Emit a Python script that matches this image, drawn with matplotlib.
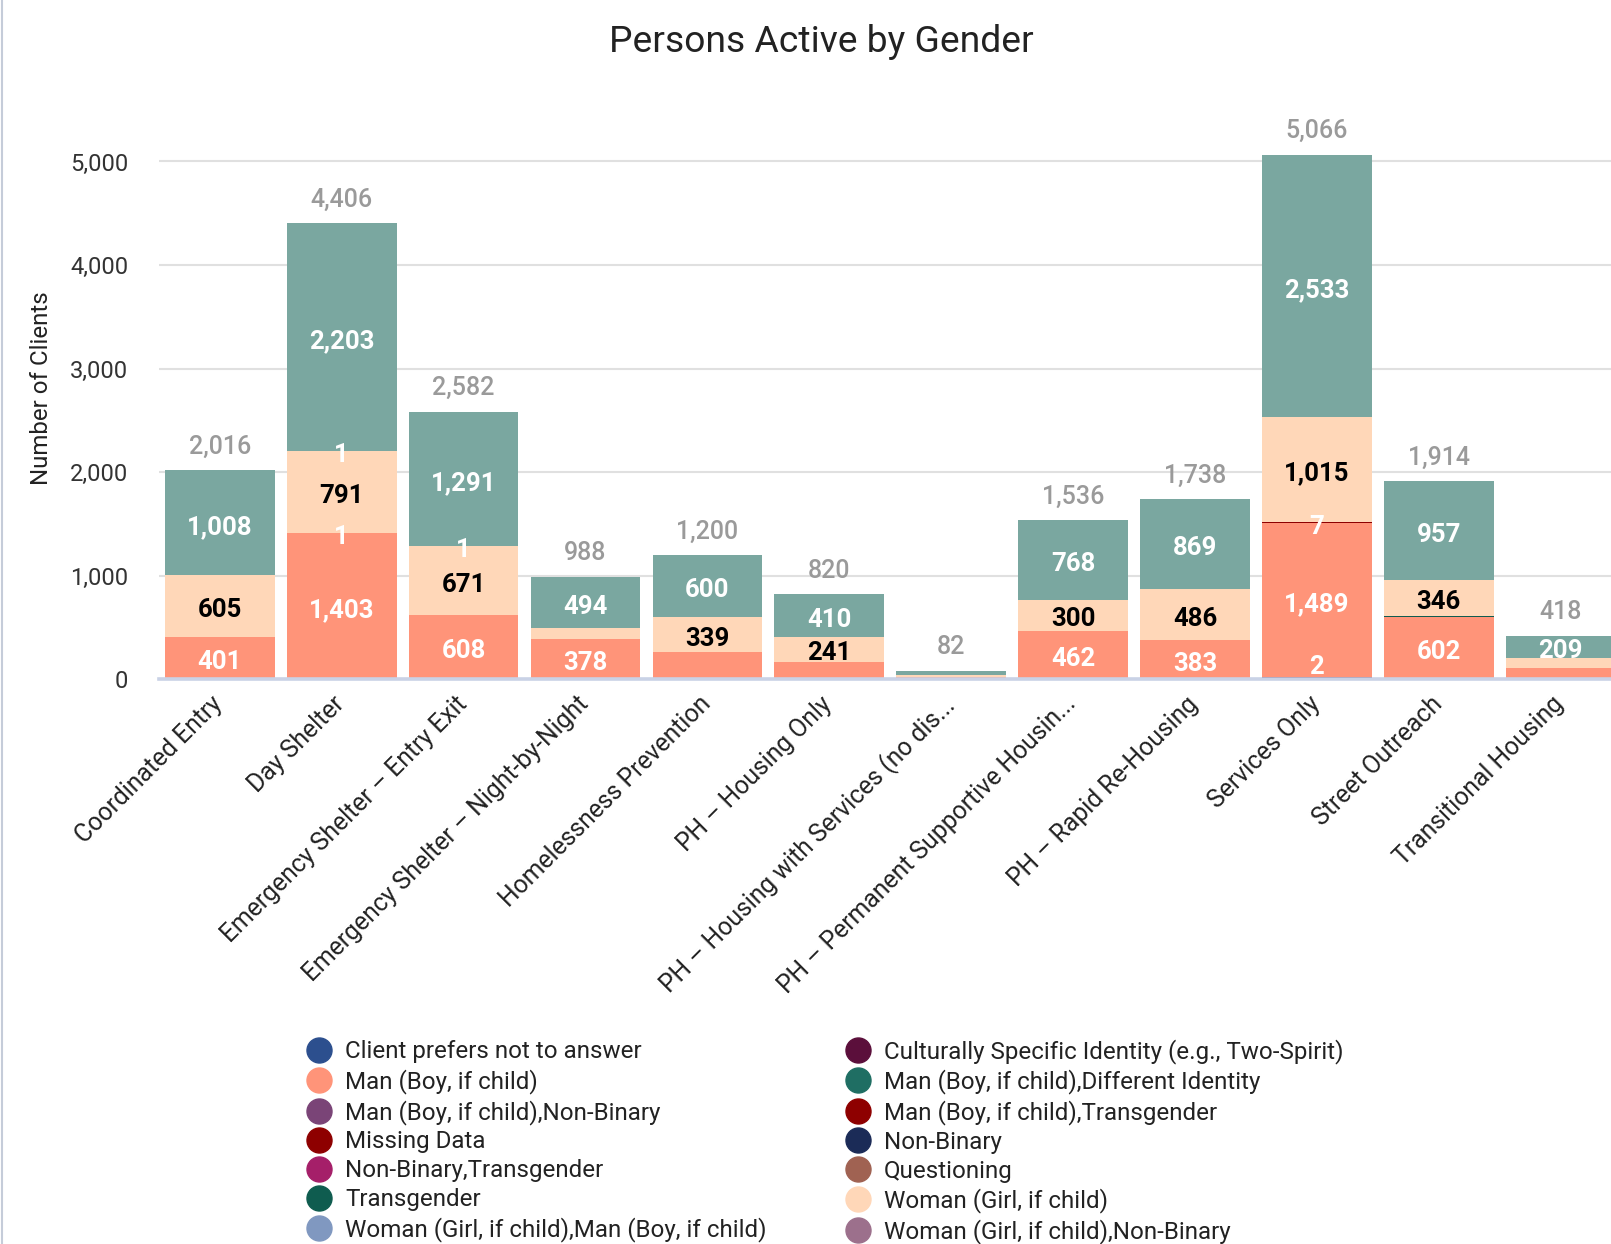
import matplotlib.pyplot as plt
from matplotlib.lines import Line2D
import matplotlib.transforms as mtransforms
import numpy as np

plt.rcParams['font.family'] = ['Roboto', 'DejaVu Sans']

# categories on the x axis
categories = [
    "Coordinated Entry",
    "Day Shelter",
    "Emergency Shelter – Entry Exit",
    "Emergency Shelter – Night-by-Night",
    "Homelessness Prevention",
    "PH – Housing Only",
    "PH – Housing with Services (no dis...",
    "PH – Permanent Supportive Housin...",
    "PH – Rapid Re-Housing",
    "Services Only",
    "Street Outreach",
    "Transitional Housing",
]

# one list per gender series (stack order = legend order)
client_prefers = [0, 0, 0, 0, 0, 0, 0, 0, 0, 2, 0, 0]
culturally_specific = [2, 7, 11, 9, 7, 5, 2, 6, 0, 17, 1, 4]
man = [401, 1403, 608, 378, 254, 164, 18, 462, 383, 1489, 602, 100]
man_diff_identity = [0, 0, 0, 0, 0, 0, 0, 0, 0, 0, 0, 0]
man_non_binary = [0, 0, 0, 0, 0, 0, 0, 0, 0, 0, 0, 0]
man_transgender = [0, 1, 0, 0, 0, 0, 0, 0, 0, 0, 0, 0]
missing_data = [0, 0, 0, 0, 0, 0, 0, 0, 0, 7, 0, 0]
non_binary = [0, 0, 0, 0, 0, 0, 0, 0, 0, 3, 0, 0]
non_binary_trans = [0, 0, 0, 0, 0, 0, 0, 0, 0, 0, 0, 0]
questioning = [0, 0, 0, 0, 0, 0, 0, 0, 0, 0, 0, 0]
transgender = [0, 0, 0, 0, 0, 0, 0, 0, 0, 0, 8, 0]
woman = [605, 791, 671, 107, 339, 241, 21, 300, 486, 1015, 346, 105]
woman_man = [0, 1, 1, 0, 0, 0, 0, 0, 0, 0, 0, 0]
woman_non_binary = [0, 0, 0, 0, 0, 0, 0, 0, 0, 0, 0, 0]
# top teal series (its legend entry is cut off below the picture)
teal_series = [1008, 2203, 1291, 494, 600, 410, 41, 768, 869, 2533, 957, 209]

series_names = [
    "Client prefers not to answer",
    "Culturally Specific Identity (e.g., Two-Spirit)",
    "Man (Boy, if child)",
    "Man (Boy, if child),Different Identity",
    "Man (Boy, if child),Non-Binary",
    "Man (Boy, if child),Transgender",
    "Missing Data",
    "Non-Binary",
    "Non-Binary,Transgender",
    "Questioning",
    "Transgender",
    "Woman (Girl, if child)",
    "Woman (Girl, if child),Man (Boy, if child)",
    "Woman (Girl, if child),Non-Binary",
    "_teal",
]
series_values = [client_prefers, culturally_specific, man, man_diff_identity,
                 man_non_binary, man_transgender, missing_data, non_binary,
                 non_binary_trans, questioning, transgender, woman, woman_man,
                 woman_non_binary, teal_series]
colors = ["#2c4f8e", "#5b0f3b", "#ff9479", "#1f6e63", "#7a4477", "#8e0000",
          "#8e0000", "#1b2b57", "#a51f69", "#a06252", "#0f5c4f", "#ffd7b8",
          "#8098c0", "#9c708c", "#7aa7a0"]

# which labels google hid / showed (category index, series index)
hide_labels = [(4, 2)]
small_labels = [(1, 5), (1, 12), (2, 12), (9, 0), (9, 6)]

fig = plt.figure(figsize=(16.11, 12.44), dpi=100)
ax = fig.add_axes([0.0986, 0.454, 0.908, 0.4578])

x = np.arange(len(categories))
bottom = np.zeros(len(categories))
for s, (name, vals, col) in enumerate(zip(series_names, series_values, colors)):
    vals = np.array(vals, dtype=float)
    ax.bar(x, vals, 0.9, bottom=bottom, color=col, linewidth=0, zorder=2)
    for i in range(len(x)):
        show = (vals[i] >= 200 and (i, s) not in hide_labels) or (i, s) in small_labels
        if not show:
            continue
        yc = max(bottom[i] + vals[i] / 2, 155)
        txt_col = 'black' if name == "Woman (Girl, if child)" else 'white'
        ax.annotate(f"{int(vals[i]):,}", (x[i], yc), xytext=(0, -3),
                    textcoords='offset points', ha='center', va='center',
                    color=txt_col, fontsize=18.5, fontweight='bold', zorder=4)
    bottom += vals

# totals above the bars
for i in range(len(x)):
    ax.annotate(f"{int(bottom[i]):,}", (x[i], bottom[i]), xytext=(0, 17),
                textcoords='offset points', ha='center', va='center',
                color='#9a9a9a', fontsize=18, fontweight='medium')

ax.set_xlim(-0.5, len(categories) - 0.5)
ax.set_ylim(0, 5500)
ax.set_yticks([0, 1000, 2000, 3000, 4000, 5000])
ax.set_yticklabels([f"{v:,}" for v in [0, 1000, 2000, 3000, 4000, 5000]],
                   fontsize=17, color='#333333')
ax.tick_params(axis='y', length=0, pad=22)
ax.set_xticks(x)
ax.set_xticklabels(categories, rotation=45, ha='right', rotation_mode='anchor',
                   fontsize=17.8, color='#222222')
ax.tick_params(axis='x', length=0, pad=9)
# nudge the slanted labels a little to the left
shift = mtransforms.ScaledTranslation(-0.09, 0, fig.dpi_scale_trans)
for lab in ax.get_xticklabels():
    lab.set_transform(lab.get_transform() + shift)
ax.yaxis.grid(True, color='#e0e0e0', linewidth=1.5, zorder=0)
ax.set_axisbelow(True)
for sp in ['left', 'right', 'top']:
    ax.spines[sp].set_visible(False)
ax.spines['bottom'].set_color('#c9d2e6')
ax.spines['bottom'].set_linewidth(2.6)
ax.spines['bottom'].set_zorder(3)

fig.text(0.026, 0.688, "Number of Clients", rotation=90, ha='center', va='center',
         fontsize=17.3, color='#222222')
fig.text(0.51, 0.966, "Persons Active by Gender", ha='center', va='center',
         fontsize=26.8, color='#222222')

# thin border on the left edge
fig.add_artist(Line2D([0.0012, 0.0012], [0, 1], transform=fig.transFigure,
                      color='#c5ccd9', linewidth=1.5))

# legend, row by row (matplotlib fills columns, so reorder)
handles = []
for name, col in zip(series_names[:14], colors[:14]):
    handles.append(Line2D([], [], marker='o', linestyle='', markersize=18,
                          markerfacecolor=col, markeredgecolor=col, label=name))
order = list(range(0, 14, 2)) + list(range(1, 14, 2))
leg = fig.legend([handles[k] for k in order], [series_names[k] for k in order],
                 ncol=2, loc='upper left', bbox_to_anchor=(0.1908, 0.165),
                 frameon=False, fontsize=17.4, handlelength=1.0,
                 handletextpad=0.56, labelspacing=0.24, columnspacing=3.28,
                 borderpad=0, borderaxespad=0)
for t in leg.get_texts():
    t.set_color('#222222')

plt.savefig('out.png', dpi=100)
